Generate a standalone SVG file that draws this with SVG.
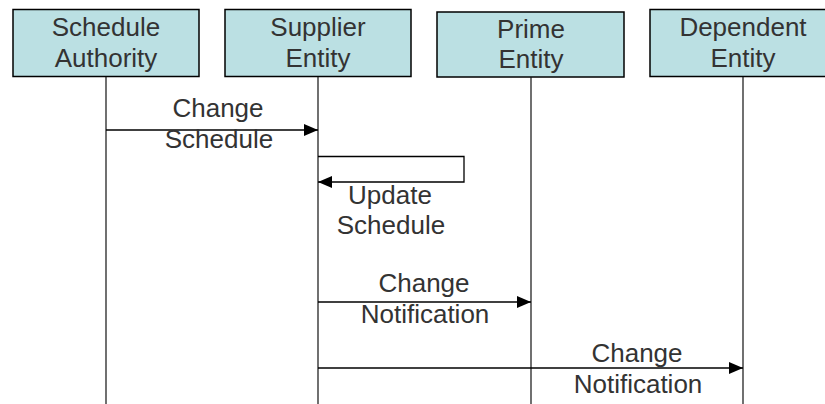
<svg xmlns="http://www.w3.org/2000/svg" width="825" height="404" viewBox="0 0 825 404">
  <style>
    .box { fill: #bbe0e3; stroke: #000; stroke-width: 1.5; }
    .life { stroke: #111; stroke-width: 1.2; fill: none; }
    .msg { stroke: #000; stroke-width: 1.3; fill: none; }
    text { font-family: "Liberation Sans", Arial, sans-serif; font-size: 26px; fill: #333; text-anchor: middle; }
  </style>
  <defs>
    <marker id="head" markerWidth="14" markerHeight="12" refX="14" refY="6" orient="auto" markerUnits="userSpaceOnUse">
      <path d="M0,0 L14,6 L0,12 Z" fill="#000"/>
    </marker>
  </defs>
  <rect width="825" height="404" fill="#fff"/>

  <g id="schedule-authority">
    <rect class="box" x="13" y="9.5" width="186" height="67"/>
    <line class="life" x1="106" y1="77" x2="106" y2="404"/>
    <text x="106" y="36">Schedule</text>
    <text x="106" y="67">Authority</text>
  </g>

  <g id="supplier-entity">
    <rect class="box" x="225" y="9.5" width="186" height="67"/>
    <line class="life" x1="318" y1="77" x2="318" y2="404"/>
    <text x="318" y="36">Supplier</text>
    <text x="318" y="67">Entity</text>
  </g>

  <g id="prime-entity">
    <rect class="box" x="437" y="12" width="187" height="65"/>
    <line class="life" x1="531" y1="77" x2="531" y2="404"/>
    <text x="531" y="38">Prime</text>
    <text x="531" y="68">Entity</text>
  </g>

  <g id="dependent-entity">
    <rect class="box" x="650" y="9.5" width="186" height="67"/>
    <line class="life" x1="743" y1="77" x2="743" y2="404"/>
    <text x="743" y="36">Dependent</text>
    <text x="743" y="67">Entity</text>
  </g>

  <g id="connectors">
    <line class="msg" x1="106" y1="130" x2="318" y2="130" marker-end="url(#head)"/>
    <text x="218" y="117">Change</text>
    <text x="219" y="148">Schedule</text>

    <path class="msg" d="M318,156.5 H464 V182 H318" marker-end="url(#head)"/>
    <text x="390" y="204">Update</text>
    <text x="391" y="234">Schedule</text>

    <line class="msg" x1="318" y1="302" x2="531" y2="302" marker-end="url(#head)"/>
    <text x="424" y="292">Change</text>
    <text x="425" y="323">Notification</text>

    <line class="msg" x1="318" y1="368" x2="743" y2="368" marker-end="url(#head)"/>
    <text x="637" y="362">Change</text>
    <text x="638" y="393">Notification</text>
  </g>
</svg>
